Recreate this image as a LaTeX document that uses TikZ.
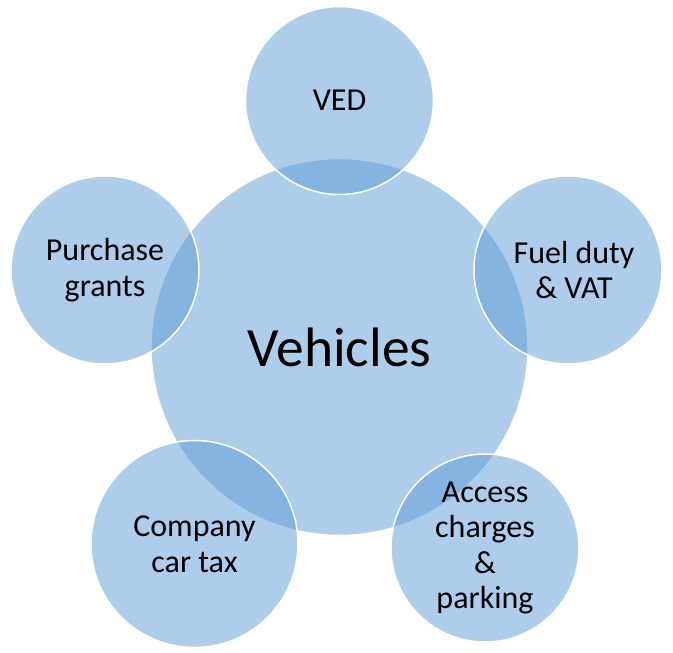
\documentclass[tikz,border=0pt]{standalone}
\usepackage{fontspec}
\setmainfont{Carlito}
\definecolor{bubble}{HTML}{5B9BD5}
\begin{document}
\begin{tikzpicture}[x=1pt,y=-1pt,
  bubblebase/.style={circle, fill=bubble, fill opacity=0.5, draw=white, draw opacity=1,
    line width=1.5pt, text opacity=1, text=black, align=center, inner sep=0pt},
  hub/.style={bubblebase, minimum size=377pt, font=\fontsize{55.5}{60}\selectfont},
  satellite/.style={bubblebase, minimum size=#1, font=\fontsize{32}{35.5}\selectfont},
  satellite/.default=188pt,
  caption/.style={text=black, align=center, inner sep=0pt, font=\fontsize{32}{35.5}\selectfont}]
  \useasboundingbox (0,0) rectangle (673,653);
  % central topic
  \node[hub] (veh) at (339.5,347) {Vehicles};
  % surrounding topics
  \node[satellite] (ved) at (339.5,100.5) {VED};
  \node[satellite] (fuel) at (568,270) {};
  \node[caption] (fueltext) at ([xshift=6pt]fuel.center) {Fuel duty\\\& VAT};
  \node[satellite] (access) at (485,548) {Access\\charges\\\&\\parking};
  \node[satellite=207pt] (company) at (194.5,544) {Company\\car tax};
  \node[satellite] (grants) at (105,270) {Purchase\\grants};
\end{tikzpicture}
\end{document}
